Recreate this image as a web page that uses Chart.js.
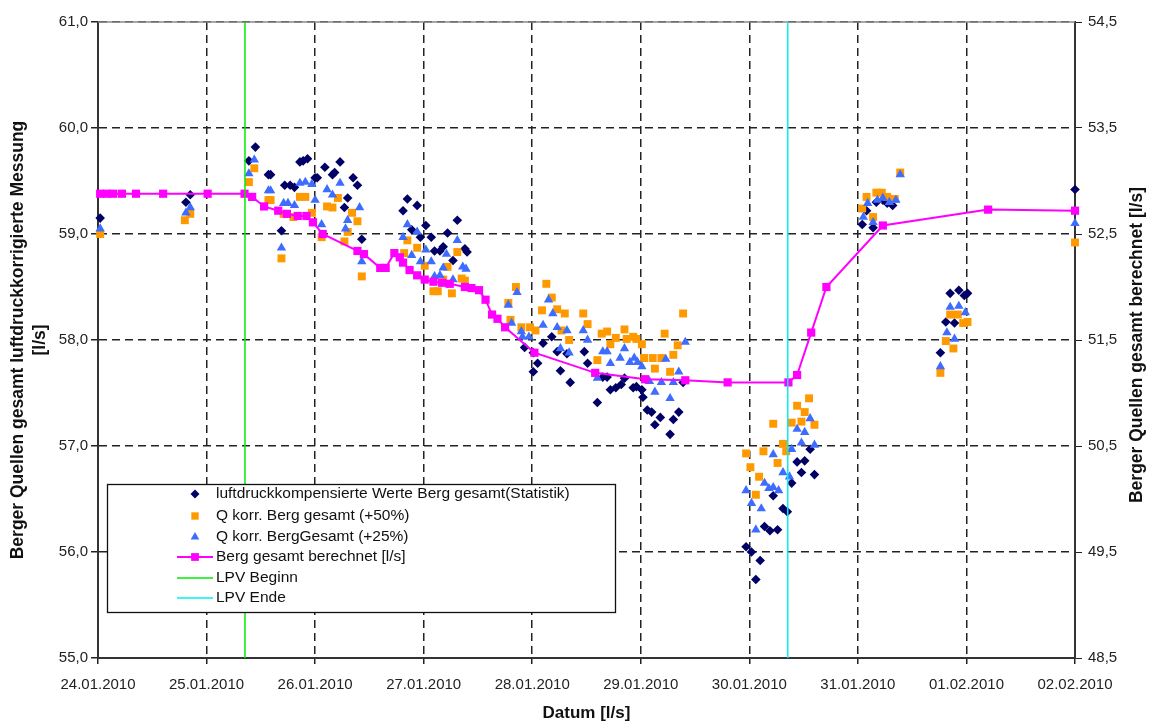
<!DOCTYPE html>
<html><head><meta charset="utf-8">
<script src="https://cdn.jsdelivr.net/npm/chart.js@4.4.1/dist/chart.umd.min.js"></script>
<style>html,body{margin:0;padding:0;background:#fff;}#wrap{width:1150px;height:724px;}</style>
</head><body><div id="wrap"><canvas id="c" width="1150" height="724"></canvas></div>
<script>
// x = days since 24.01.2010 00:00
const dateLabels = ['24.01.2010','25.01.2010','26.01.2010','27.01.2010','28.01.2010','29.01.2010','30.01.2010','31.01.2010','01.02.2010','02.02.2010'];
const seriesNames = ['luftdruckkompensierte Werte Berg gesamt(Statistik)','Q korr. Berg gesamt (+50%)','Q korr. BergGesamt (+25%)','Berg gesamt berechnet [l/s]','LPV Beginn','LPV Ende'];
const leftTitle = ['Berger Quellen gesamt luftdruckkorrigierte Messung','[l/s]'];
const rightTitle = 'Berger Quellen gesamt berechnet [l/s]';
const xTitle = 'Datum [l/s]';
const leftRange = [55, 61];
const rightRange = [48.5, 54.5];
const lpvBeginn = 1.354;
const lpvEnde = 6.354;

const luftWerte = [
[0.02,59.15],[0.81,59.30],[0.85,59.37],
[1.39,59.69],[1.45,59.82],[1.57,59.56],[1.59,59.56],[1.69,59.03],[1.72,59.46],[1.77,59.46],[1.81,59.44],[1.86,59.68],[1.89,59.69],[1.93,59.71],[2.00,59.53],[2.02,59.53],[2.09,59.63],[2.16,59.56],[2.18,59.58],[2.23,59.68],[2.27,59.25],[2.30,59.34],[2.35,59.53],[2.39,59.46],[2.43,58.95],
[2.81,59.22],[2.85,59.33],[2.89,59.04],[2.94,59.27],[2.97,58.97],[3.02,59.08],[3.07,58.97],[3.10,58.84],[3.15,58.84],[3.18,58.88],[3.22,59.01],[3.27,58.75],[3.31,59.13],[3.38,58.86],[3.40,58.83],
[3.93,57.93],[4.01,57.88],[4.01,57.70],[4.05,57.78],[4.10,57.97],[4.18,58.03],[4.23,57.89],[4.26,57.71],[4.32,57.87],[4.35,57.60],[4.48,57.89],[4.51,57.78],[4.60,57.41],[4.65,57.65],[4.69,57.65],[4.72,57.53],[4.77,57.55],[4.82,57.58],[4.85,57.64],[4.93,57.55],[4.96,57.56],[5.01,57.53],[5.02,57.46],[5.06,57.34],[5.10,57.32],[5.13,57.20],[5.18,57.27],[5.27,57.11],[5.30,57.25],[5.35,57.32],[5.39,57.60],
[5.97,56.05],[6.02,56.00],[6.06,55.74],[6.10,55.92],[6.14,56.24],[6.19,56.20],[6.22,56.53],[6.26,56.21],[6.31,56.41],[6.35,56.38],[6.39,56.65],[6.44,56.85],[6.48,56.75],[6.51,56.86],[6.56,56.97],[6.60,56.73],
[7.04,59.09],[7.08,59.22],[7.14,59.06],[7.17,59.30],[7.23,59.32],[7.27,59.29],[7.32,59.27],
[7.76,57.88],[7.81,58.17],[7.85,58.44],[7.89,58.16],[7.93,58.47],[7.98,58.42],[8.01,58.44],
[9.00,59.42]
];
const korr50 = [
[0.02,59.00],[0.80,59.13],[0.85,59.19],
[1.39,59.49],[1.44,59.62],[1.57,59.32],[1.59,59.32],[1.69,58.77],[1.71,59.19],[1.80,59.16],[1.86,59.35],[1.91,59.35],[1.97,59.20],[2.06,58.97],[2.11,59.26],[2.16,59.25],[2.21,59.34],[2.27,58.93],[2.30,59.02],[2.34,59.20],[2.39,59.12],[2.43,58.60],
[2.82,58.82],[2.85,58.94],[2.94,58.87],[3.01,58.70],[3.09,58.46],[3.13,58.46],[3.18,58.57],[3.22,58.69],[3.26,58.44],[3.31,58.83],[3.35,58.58],[3.38,58.56],
[3.78,58.35],[3.80,58.19],[3.85,58.50],[3.90,58.12],[3.98,58.12],[4.03,58.09],[4.09,58.28],[4.13,58.53],[4.18,58.40],[4.23,58.29],[4.27,58.09],[4.30,58.25],[4.34,58.00],[4.47,58.25],[4.51,58.15],[4.60,57.81],[4.64,58.06],[4.69,58.08],[4.72,57.96],[4.77,58.02],[4.85,58.10],[4.87,58.01],[4.93,58.03],[4.96,58.01],[5.01,57.96],[5.03,57.83],[5.11,57.83],[5.13,57.73],[5.19,57.83],[5.22,58.06],[5.27,57.70],[5.30,57.86],[5.34,57.95],[5.39,58.25],
[5.97,56.93],[6.01,56.80],[6.06,56.54],[6.09,56.71],[6.13,56.95],[6.22,57.21],[6.26,56.84],[6.31,57.02],[6.34,56.95],[6.39,57.22],[6.44,57.38],[6.48,57.23],[6.51,57.32],[6.55,57.45],[6.60,57.20],
[7.04,59.24],[7.08,59.35],[7.14,59.16],[7.17,59.39],[7.22,59.39],[7.27,59.35],[7.34,59.33],[7.39,59.58],
[7.76,57.69],[7.81,57.99],[7.85,58.24],[7.88,57.92],[7.92,58.24],[7.97,58.16],[8.01,58.17],
[9.00,58.92]
];
const korr25 = [
[0.02,59.05],[0.81,59.20],[0.85,59.25],
[1.39,59.57],[1.44,59.70],[1.57,59.41],[1.59,59.41],[1.69,58.87],[1.71,59.29],[1.75,59.29],[1.81,59.27],[1.86,59.48],[1.91,59.49],[1.97,59.47],[2.00,59.32],[2.06,59.09],[2.11,59.42],[2.16,59.37],[2.23,59.48],[2.28,59.05],[2.30,59.13],[2.41,59.25],[2.43,58.74],
[2.81,58.97],[2.85,59.09],[2.89,58.80],[2.94,59.02],[2.97,58.74],[3.02,58.85],[3.07,58.74],[3.10,58.60],[3.15,58.61],[3.18,58.68],[3.21,58.81],[3.27,58.57],[3.31,58.94],[3.36,58.69],[3.39,58.67],
[3.78,58.33],[3.81,58.16],[3.86,58.45],[3.90,58.08],[3.91,58.03],[3.97,58.03],[4.10,58.14],[4.15,58.38],[4.19,58.25],[4.23,58.12],[4.26,57.92],[4.32,58.09],[4.34,57.88],[4.47,58.09],[4.51,58.00],[4.60,57.64],[4.65,57.89],[4.69,57.89],[4.72,57.78],[4.81,57.83],[4.85,57.92],[4.90,57.79],[4.94,57.83],[4.97,57.79],[5.01,57.75],[5.08,57.61],[5.13,57.51],[5.19,57.60],[5.23,57.82],[5.27,57.45],[5.30,57.60],[5.35,57.70],[5.41,57.98],
[5.97,56.58],[6.02,56.46],[6.06,56.21],[6.11,56.41],[6.14,56.65],[6.18,56.60],[6.22,56.92],[6.22,56.61],[6.27,56.58],[6.31,56.75],[6.37,56.71],[6.39,56.97],[6.44,57.16],[6.48,57.03],[6.51,57.13],[6.56,57.26],[6.60,57.01],
[7.05,59.16],[7.09,59.29],[7.14,59.11],[7.18,59.32],[7.23,59.34],[7.29,59.30],[7.35,59.32],[7.39,59.56],
[7.76,57.75],[7.82,58.07],[7.85,58.31],[7.89,58.01],[7.93,58.32],[7.99,58.26],
[9.00,59.10]
];
const berechnet = [
[0.02,59.38],[0.08,59.38],[0.14,59.38],[0.22,59.38],[0.35,59.38],[0.60,59.38],[1.01,59.38],[1.35,59.38],[1.42,59.35],[1.53,59.26],[1.66,59.22],[1.74,59.19],[1.84,59.17],[1.92,59.17],[1.98,59.11],[2.07,59.00],[2.39,58.84],[2.45,58.81],[2.60,58.68],[2.65,58.68],[2.73,58.82],[2.78,58.78],[2.81,58.73],[2.87,58.66],[2.94,58.61],[3.01,58.57],[3.09,58.55],[3.17,58.54],[3.24,58.53],[3.38,58.50],[3.44,58.49],[3.51,58.47],[3.57,58.38],[3.63,58.24],[3.68,58.20],[3.75,58.12],[4.02,57.88],[4.58,57.69],[5.04,57.63],[5.41,57.62],[5.80,57.60],[6.36,57.60],[6.44,57.67],[6.57,58.07],[6.71,58.50],[7.23,59.08],[8.20,59.23],[9.00,59.22]
];

const FONT = '"Liberation Sans", Arial, sans-serif';
const toPts = a => a.map(p => ({x: p[0], y: p[1]}));
const fmt = v => Number(v).toFixed(1).replace('.', ',');

const boxLegend = {
  id: 'boxLegend',
  beforeDatasetsDraw(chart) {
    const {ctx, chartArea: a} = chart;
    ctx.save();
    ctx.strokeStyle = '#8a8a8a'; ctx.lineWidth = 1.5;
    ctx.beginPath(); ctx.moveTo(a.left, a.top); ctx.lineTo(a.right, a.top); ctx.stroke();
    ctx.restore();
  },
  afterDraw(chart) {
    const ctx = chart.ctx;
    const x0 = 107, y0 = 484, w = 508, h = 128;
    ctx.save();
    ctx.fillStyle = '#fff'; ctx.fillRect(x0, y0, w, h);
    ctx.strokeStyle = '#111'; ctx.lineWidth = 1.3; ctx.strokeRect(x0 + 0.5, y0 + 0.5, w, h);
    const rows = [494, 516, 537, 557, 578, 598];
    chart.data.datasets.forEach((ds, i) => {
      const y = rows[i];
      if (ds.showLine) {
        ctx.strokeStyle = ds.borderColor; ctx.lineWidth = ds.borderWidth;
        ctx.beginPath(); ctx.moveTo(177, y); ctx.lineTo(213, y); ctx.stroke();
      }
      if (ds.pointRadius > 0) {
        ctx.fillStyle = ds.pointBackgroundColor;
        Chart.helpers.drawPoint(ctx, {pointStyle: ds.pointStyle, rotation: 0, radius: ds.legendRadius, borderWidth: 0}, 195, y);
      }
      ctx.fillStyle = '#111';
      ctx.font = '15.5px ' + FONT;
      ctx.textBaseline = 'middle'; ctx.textAlign = 'left';
      ctx.fillText(ds.label, 216, y);
    });
    // right axis title (reads bottom to top)
    ctx.translate(1137, 345); ctx.rotate(-Math.PI / 2);
    ctx.font = 'bold 17.5px ' + FONT; ctx.fillStyle = '#111';
    ctx.textAlign = 'center'; ctx.textBaseline = 'middle';
    ctx.fillText(rightTitle, 0, 0);
    ctx.restore();
  }
};

const tickFont = {family: FONT, size: 15};
new Chart(document.getElementById('c'), {
  type: 'scatter',
  data: {
    datasets: [
      {label: seriesNames[0], data: toPts(luftWerte), pointStyle: 'rectRot', pointRadius: 4.8, legendRadius: 4.5,
       pointBackgroundColor: '#000066', pointBorderWidth: 0, showLine: false, order: 6, clip: false},
      {label: seriesNames[1], data: toPts(korr50), pointStyle: 'rect', pointRadius: 5.6, legendRadius: 5.2,
       pointBackgroundColor: '#ff9900', pointBorderWidth: 0, showLine: false, order: 5, clip: false},
      {label: seriesNames[2], data: toPts(korr25), pointStyle: 'triangle', pointRadius: 5.4, legendRadius: 5,
       pointBackgroundColor: '#3d6cff', pointBorderWidth: 0, showLine: false, order: 4, clip: false},
      {label: seriesNames[3], data: toPts(berechnet), pointStyle: 'rect', pointRadius: 5.8, legendRadius: 5.5,
       pointBackgroundColor: '#ff00ff', pointBorderWidth: 0, borderColor: '#ff00ff', borderWidth: 2,
       showLine: true, tension: 0, order: 3, clip: false},
      {label: seriesNames[4], data: [{x: lpvBeginn, y: leftRange[0]}, {x: lpvBeginn, y: leftRange[1]}],
       showLine: true, borderColor: '#00ee00', borderWidth: 1.5, pointRadius: 0, order: 2},
      {label: seriesNames[5], data: [{x: lpvEnde, y: leftRange[0]}, {x: lpvEnde, y: leftRange[1]}],
       showLine: true, borderColor: '#00f0f0', borderWidth: 1.5, pointRadius: 0, order: 1}
    ]
  },
  options: {
    responsive: false, animation: false, events: [],
    layout: {padding: {top: 22, left: 0, right: 0, bottom: 0}},
    plugins: {legend: {display: false}, tooltip: {enabled: false}},
    scales: {
      x: {
        type: 'linear', position: 'bottom', min: 0, max: dateLabels.length - 1,
        afterFit: s => { s.height = 66; },
        ticks: {stepSize: 1, autoSkip: false, maxRotation: 0, padding: 12, color: '#222', font: tickFont,
                callback: v => dateLabels[Math.round(v)]},
        grid: {color: '#222', lineWidth: 1.5, tickLength: 6, tickColor: '#222'},
        border: {display: true, color: '#333', width: 2, dash: [8, 5]},
        title: {display: true, text: xTitle, color: '#111', padding: 0,
                font: {family: FONT, size: 17, weight: 'bold'}}
      },
      y: {
        type: 'linear', position: 'left', min: leftRange[0], max: leftRange[1],
        afterFit: s => { s.width = 98; },
        ticks: {stepSize: 1, padding: 3, color: '#222', font: tickFont, callback: v => fmt(v)},
        grid: {color: '#222', lineWidth: 1.5, tickLength: 7, tickColor: '#222'},
        border: {display: true, color: '#333', width: 2, dash: [8, 5]},
        title: {display: true, text: leftTitle, color: '#111', padding: {top: 7, bottom: 0},
                font: {family: FONT, size: 17.5, weight: 'bold', lineHeight: 1.25}}
      },
      y2: {
        type: 'linear', position: 'right', min: rightRange[0], max: rightRange[1],
        afterFit: s => { s.width = 75; },
        ticks: {stepSize: 1, padding: 6, color: '#222', font: tickFont, callback: v => fmt(v)},
        grid: {drawOnChartArea: false, tickLength: 7, tickColor: '#222'},
        border: {display: true, color: '#333', width: 2}
      }
    }
  },
  plugins: [boxLegend]
});
</script>
</body></html>
